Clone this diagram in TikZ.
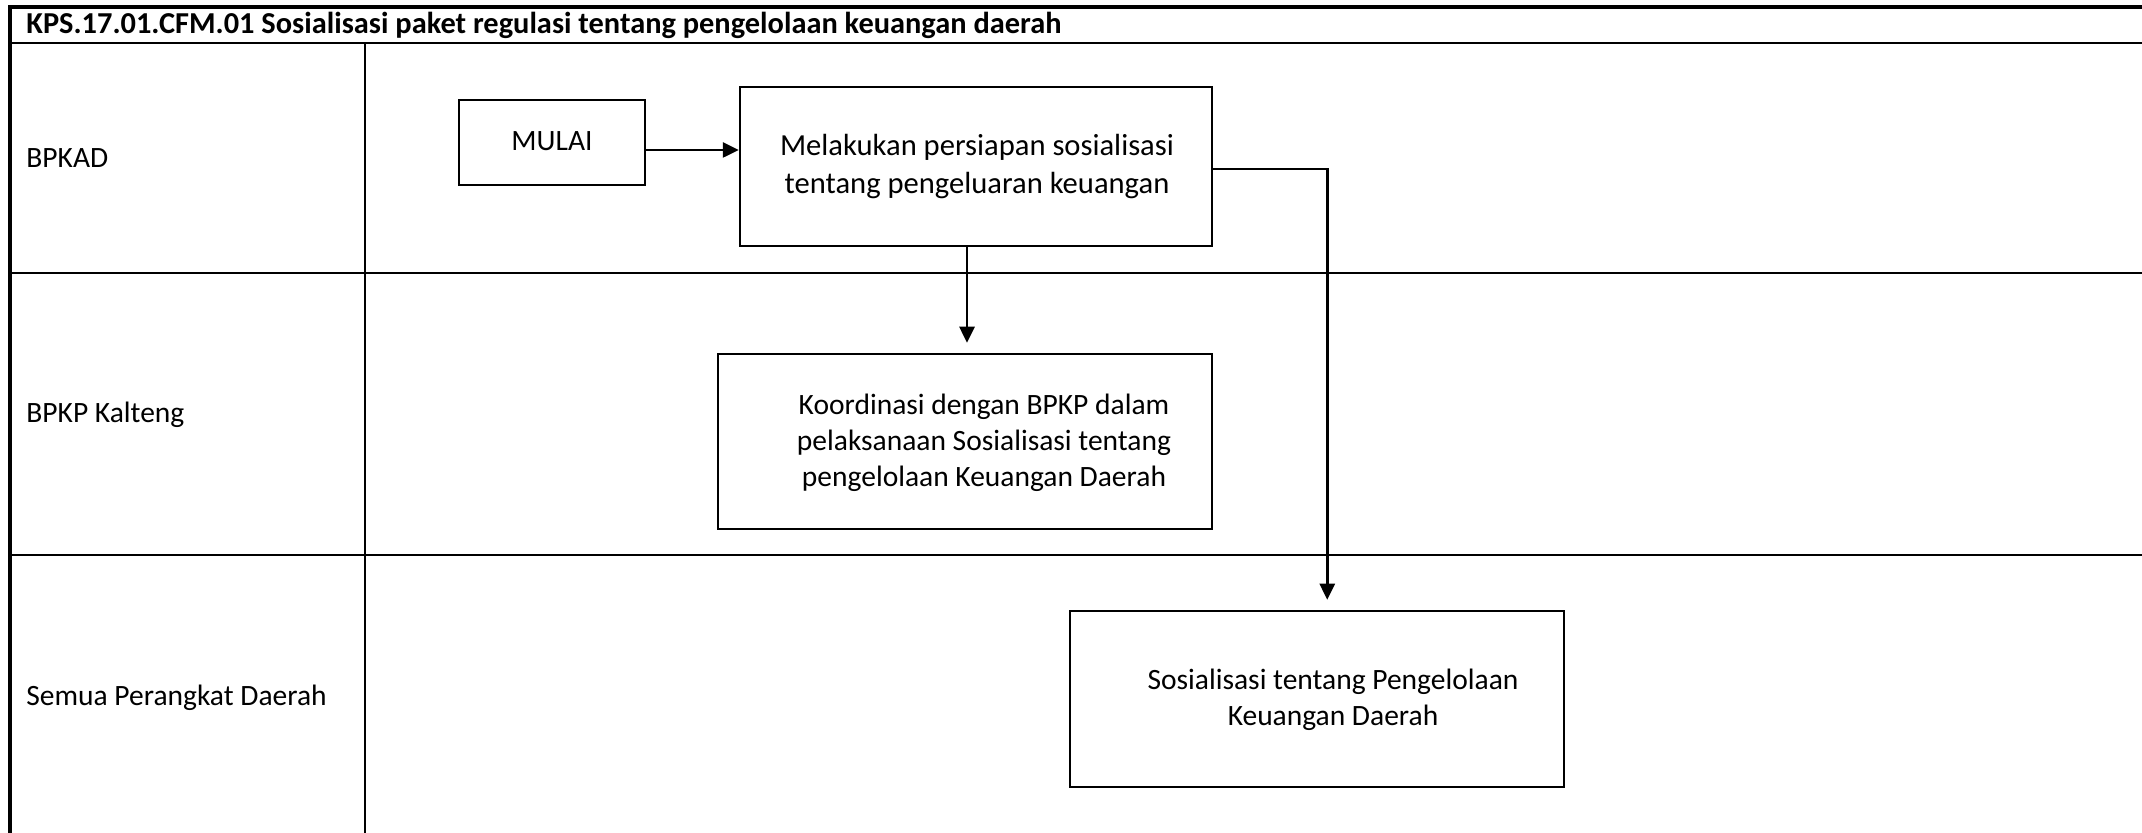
\documentclass[tikz,border=0pt]{standalone}
\usepackage{fontspec}
\setmainfont{Carlito}
\usetikzlibrary{arrows.meta,calc}
\begin{document}
\begin{tikzpicture}[x=0.5pt,y=-0.5pt,
  lane/.style={line width=1.4pt},
  box/.style={draw,line width=1.25pt,rectangle,inner sep=0pt},
  txt/.style={font=\fontsize{14.75}{18}\selectfont,align=center,inner sep=0pt},
  lbl/.style={font=\fontsize{14.75}{18}\selectfont,anchor=west,inner sep=0pt},
  ttl/.style={font=\fontsize{15.2}{18}\selectfont\bfseries,anchor=west,inner sep=0pt},
  arr/.style={line width=1.3pt,-{Triangle[length=8pt,width=7.5pt]}},
  ]
\useasboundingbox (0,0) rectangle (2142,833);
\clip (0,0) rectangle (2142,833);
% table frame
\draw[line width=1.8pt] (10,833) -- (10,7) -- (2142,7);
\draw[lane] (10,43) -- (2142,43);
\draw[lane] (10,273) -- (2142,273);
\draw[lane] (10,555) -- (2142,555);
\draw[lane] (365,43) -- (365,833);
% title and lane labels
\node[ttl] (title) at (26,25) {KPS.17.01.CFM.01 Sosialisasi paket regulasi tentang pengelolaan keuangan daerah};
\node[lbl] (l1) at (26,158) {BPKAD};
\node[lbl] (l2) at (26,415) {BPKP Kalteng};
\node[lbl] (l3) at (26,698) {Semua Perangkat Daerah};
% boxes
\node[box,minimum width=93pt,minimum height=42.5pt] (m) at (552,142.5) {};
\node[box,minimum width=236pt,minimum height=79.5pt] (b2) at (976,166.5) {};
\node[box,minimum width=247pt,minimum height=87.5pt] (b3) at (965,441.5) {};
\node[box,minimum width=247pt,minimum height=88pt] (b4) at (1317,699) {};
% texts
\node[txt] (tm) at (552,141) {MULAI};
\node[txt,font=\fontsize{15.3}{19}\selectfont] (t2) at (977,167) {Melakukan persiapan sosialisasi\\tentang pengeluaran keuangan};
\node[txt] (t3) at (984,443) {Koordinasi dengan BPKP dalam\\pelaksanaan Sosialisasi tentang\\pengelolaan Keuangan Daerah};
\node[txt] (t4) at (1333,700) {Sosialisasi tentang Pengelolaan\\Keuangan Daerah};
% connectors
\draw[arr] ($(m.east)+(0,7.5)$) coordinate (a1) -- (a1 -| b2.west);
\draw[arr] ($(b2.south)+(-9,0)$) coordinate (a2) -- ($(a2 |- b3.north)+(0,-10)$);
\draw[arr] ($(b2.east)+(0,2.5)$) coordinate (a3) -- ++(114,0) coordinate (c3) -- ($(c3 |- b4.north)+(0,-10)$);
\end{tikzpicture}
\end{document}
